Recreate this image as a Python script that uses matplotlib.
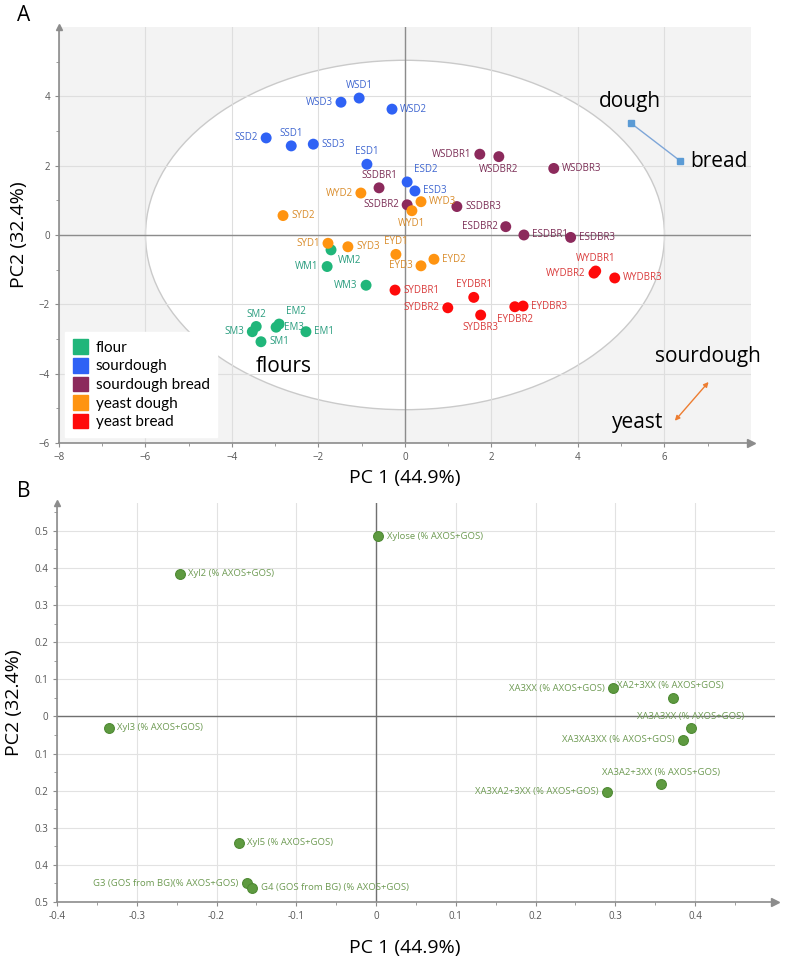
import matplotlib
matplotlib.use("Agg")
from matplotlib import pyplot as plt
from matplotlib import patches

plt.rcParams['font.family'] = ['Open Sans', 'DejaVu Sans']

# ---- panel A: scores ----
groups = ['flour', 'sourdough', 'sourdough bread', 'yeast dough', 'yeast bread']
group_colors = ['#20b67a', '#2f62f5', '#8c2a5c', '#ff9411', '#ff0a0a']
label_colors = ['#2a9d7f', '#3f66d0', '#7b2d55', '#d98c2b', '#d93a3a']

flour_names = ['WM1', 'WM2', 'WM3', 'SM1', 'SM2', 'SM3', 'EM1', 'EM2', 'EM3']
flour_x = [-1.80, -1.71, -0.90, -3.33, -3.44, -3.53, -2.29, -2.91, -2.98]
flour_y = [-0.91, -0.43, -1.45, -3.08, -2.64, -2.79, -2.79, -2.57, -2.66]
flour_pos = ['l', 'br', 'l', 'r', 't', 'l', 'r', 'tr', 'r']

sd_names = ['WSD1', 'WSD2', 'WSD3', 'SSD1', 'SSD2', 'SSD3', 'ESD1', 'ESD2', 'ESD3']
sd_x = [-1.06, -0.30, -1.48, -2.63, -3.21, -2.12, -0.88, 0.05, 0.23]
sd_y = [3.95, 3.63, 3.83, 2.57, 2.80, 2.62, 2.04, 1.53, 1.27]
sd_pos = ['t', 'r', 'l', 't', 'l', 'r', 't', 'tr', 'r']

sdb_names = ['WSDBR1', 'WSDBR2', 'WSDBR3', 'SSDBR1', 'SSDBR2', 'SSDBR3',
             'ESDBR1', 'ESDBR2', 'ESDBR3']
sdb_x = [1.73, 2.17, 3.44, -0.60, 0.05, 1.20, 2.75, 2.33, 3.83]
sdb_y = [2.33, 2.26, 1.92, 1.36, 0.87, 0.82, 0.00, 0.24, -0.07]
sdb_pos = ['l', 'b', 'r', 't', 'l', 'r', 'r', 'l', 'r']

yd_names = ['WYD1', 'WYD2', 'WYD3', 'SYD1', 'SYD2', 'SYD3', 'EYD1', 'EYD2', 'EYD3']
yd_x = [0.16, -1.02, 0.37, -1.78, -2.82, -1.32, -0.21, 0.67, 0.37]
yd_y = [0.70, 1.21, 0.96, -0.24, 0.56, -0.34, -0.56, -0.70, -0.89]
yd_pos = ['b', 'l', 'r', 'l', 'r', 'r', 't', 'r', 'l']

yb_names = ['WYDBR1', 'WYDBR2', 'WYDBR3', 'SYDBR1', 'SYDBR2', 'SYDBR3',
            'EYDBR1', 'EYDBR2', 'EYDBR3']
yb_x = [4.41, 4.37, 4.85, -0.23, 0.99, 1.75, 1.59, 2.54, 2.73]
yb_y = [-1.04, -1.10, -1.24, -1.59, -2.10, -2.31, -1.80, -2.07, -2.05]
yb_pos = ['t', 'l', 'r', 'r', 'l', 'b', 't', 'b', 'r']

score_sets = [
    (flour_names, flour_x, flour_y, flour_pos),
    (sd_names, sd_x, sd_y, sd_pos),
    (sdb_names, sdb_x, sdb_y, sdb_pos),
    (yd_names, yd_x, yd_y, yd_pos),
    (yb_names, yb_x, yb_y, yb_pos),
]

# ---- panel B: loadings ----
load_names = ['Xylose (% AXOS+GOS)', 'Xyl2 (% AXOS+GOS)', 'Xyl3 (% AXOS+GOS)',
              'Xyl5 (% AXOS+GOS)', 'G3 (GOS from BG)(% AXOS+GOS)',
              'G4 (GOS from BG) (% AXOS+GOS)', 'XA3XX (% AXOS+GOS)',
              'XA2+3XX (% AXOS+GOS)', 'XA3A3XX (% AXOS+GOS)',
              'XA3XA3XX (% AXOS+GOS)', 'XA3A2+3XX (% AXOS+GOS)',
              'XA3XA2+3XX (% AXOS+GOS)']
load_x = [0.003, -0.246, -0.335, -0.172, -0.162, -0.155, 0.297, 0.372, 0.395,
          0.385, 0.357, 0.290]
load_y = [0.486, 0.384, -0.030, -0.340, -0.449, -0.462, 0.076, 0.049, -0.030,
          -0.063, -0.183, -0.203]
load_pos = ['r', 'r', 'r', 'r', 'l', 'r', 'l', 'xa2', 't', 'l', 't', 'l']

offsets = {
    'r': ((6, 0), 'left', 'center'),
    'l': ((-6, 0), 'right', 'center'),
    't': ((0, 5), 'center', 'bottom'),
    'b': ((0, -5), 'center', 'top'),
    'tr': ((5, 5), 'left', 'bottom'),
    'br': ((5, -4), 'left', 'top'),
    'xa2': ((-40, 9), 'left', 'center'),
}

axis_gray = '#8c8c8c'
tick_gray = '#555555'


def axis_arrows(ax):
    ax.plot(1, 0, '>', color=axis_gray, ms=6, transform=ax.transAxes, clip_on=False)
    ax.plot(0, 1, '^', color=axis_gray, ms=4, transform=ax.transAxes, clip_on=False)
    for s in ['top', 'right']:
        ax.spines[s].set_visible(False)
    for s in ['left', 'bottom']:
        ax.spines[s].set_color(axis_gray)
        ax.spines[s].set_linewidth(1.2)
    ax.tick_params(which='both', direction='out', color=axis_gray, labelsize=7,
                   labelcolor=tick_gray, length=3)
    ax.tick_params(which='minor', length=2)


fig = plt.figure(figsize=(7.93, 9.71), dpi=100)

# panel A
axA = fig.add_axes([0.0744, 0.5438, 0.8726, 0.4284])
axA.set_xlim(-8, 8)
axA.set_ylim(-6, 6)
axA.set_facecolor('#f3f3f3')
axA.add_patch(patches.Ellipse((0, 0), 12, 10.08, facecolor='white',
                              edgecolor='#cacaca', lw=1.0, zorder=0.5))
axA.set_xticks([-8, -6, -4, -2, 0, 2, 4, 6])
axA.set_yticks([-6, -4, -2, 0, 2, 4])
axA.set_xticks(range(-7, 8, 2), minor=True)
axA.set_yticks(range(-5, 6, 2), minor=True)
axA.grid(True, color='#dedede', lw=0.8, zorder=0.6)
axA.set_axisbelow(True)
axA.axhline(0, color=axis_gray, lw=1.0, zorder=1)
axA.axvline(0, color=axis_gray, lw=1.0, zorder=1)
axis_arrows(axA)

for (names, xs, ys, pos), c, lc, g in zip(score_sets, group_colors, label_colors, groups):
    axA.scatter(xs, ys, s=62, color=c, zorder=3, label=g, marker='o', edgecolors='none')
    for n, xv, yv, p in zip(names, xs, ys, pos):
        off, ha, va = offsets[p]
        axA.annotate(n, (xv, yv), xytext=off, textcoords='offset points',
                     ha=ha, va=va, fontsize=7, color=lc, zorder=4)

# dough -> bread and sourdough <-> yeast
axA.plot([5.22, 6.37], [3.23, 2.13], color='#7ea6d8', lw=1.0, marker='s',
         ms=4, mfc='#5b9bd5', mec='#5b9bd5', zorder=3)
axA.text(5.2, 3.55, 'dough', fontsize=15, ha='center', va='bottom')
axA.text(6.6, 2.13, 'bread', fontsize=15, ha='left', va='center')
axA.annotate('', xy=(7.02, -4.24), xytext=(6.24, -5.36),
             arrowprops=dict(arrowstyle='<|-|>', color='#ed7d31', lw=1.0,
                             mutation_scale=7, shrinkA=0, shrinkB=0))
axA.text(7.0, -3.5, 'sourdough', fontsize=15, ha='center', va='center')
axA.text(5.38, -5.42, 'yeast', fontsize=15, ha='center', va='center')
axA.text(-2.8, -3.8, 'flours', fontsize=15, ha='center', va='center')

handles = [patches.Patch(color=c) for c in group_colors]
leg = axA.legend(handles, groups, loc='lower left', bbox_to_anchor=(0.0, 0.0),
                 prop={'family': 'Lato', 'size': 11}, frameon=True,
                 fancybox=False, handlelength=1.0,
                 handleheight=1.1, handletextpad=0.5, labelspacing=0.2,
                 borderpad=0.5, borderaxespad=0.4)
leg.get_frame().set_edgecolor('white')
leg.get_frame().set_facecolor('white')
leg.get_frame().set_alpha(1)

axA.set_xlabel('PC 1 (44.9%)', fontsize=14, labelpad=4)
axA.set_ylabel('PC2 (32.4%)', fontsize=14, labelpad=8)
fig.text(0.022, 0.984, 'A', fontsize=15, va='center')

# panel B
axB = fig.add_axes([0.0719, 0.0711, 0.9051, 0.4109])
axB.set_xlim(-0.4, 0.5)
axB.set_ylim(-0.5, 0.575)
bx = [-0.4, -0.3, -0.2, -0.1, 0, 0.1, 0.2, 0.3, 0.4]
by = [-0.5, -0.4, -0.3, -0.2, -0.1, 0, 0.1, 0.2, 0.3, 0.4, 0.5]
axB.set_xticks(bx)
axB.set_xticklabels(['-0.4', '-0.3', '-0.2', '-0.1', '0', '0.1', '0.2', '0.3', '0.4'])
axB.set_yticks(by)
axB.set_yticklabels(['0.5', '0.4', '0.3', '0.2', '0.1', '0', '0.1', '0.2', '0.3',
                     '0.4', '0.5'])
axB.set_xticks([v + 0.05 for v in bx], minor=True)
axB.set_yticks([v + 0.05 for v in by[:-1]] + [0.55], minor=True)
axB.grid(True, which='major', color='#e2e2e2', lw=0.8)
axB.set_axisbelow(True)
axB.axhline(0, color='#707070', lw=1.0, zorder=1)
axB.axvline(0, color='#707070', lw=1.0, zorder=1)
axis_arrows(axB)

axB.scatter(load_x, load_y, s=50, color='#5e9a40', edgecolors='#4f8a34',
            linewidths=0.8, zorder=3)
for n, xv, yv, p in zip(load_names, load_x, load_y, load_pos):
    off, ha, va = offsets[p]
    axB.annotate(n, (xv, yv), xytext=off, textcoords='offset points',
                 ha=ha, va=va, fontsize=6.8, color='#6d9a52', zorder=4)

fig.text(0.511, 0.0237, 'PC 1 (44.9%)', fontsize=14, ha='center', va='center')
axB.set_ylabel('PC2 (32.4%)', fontsize=14, labelpad=8)
fig.text(0.022, 0.494, 'B', fontsize=15, va='center')

fig.savefig('out.png', dpi=100)
